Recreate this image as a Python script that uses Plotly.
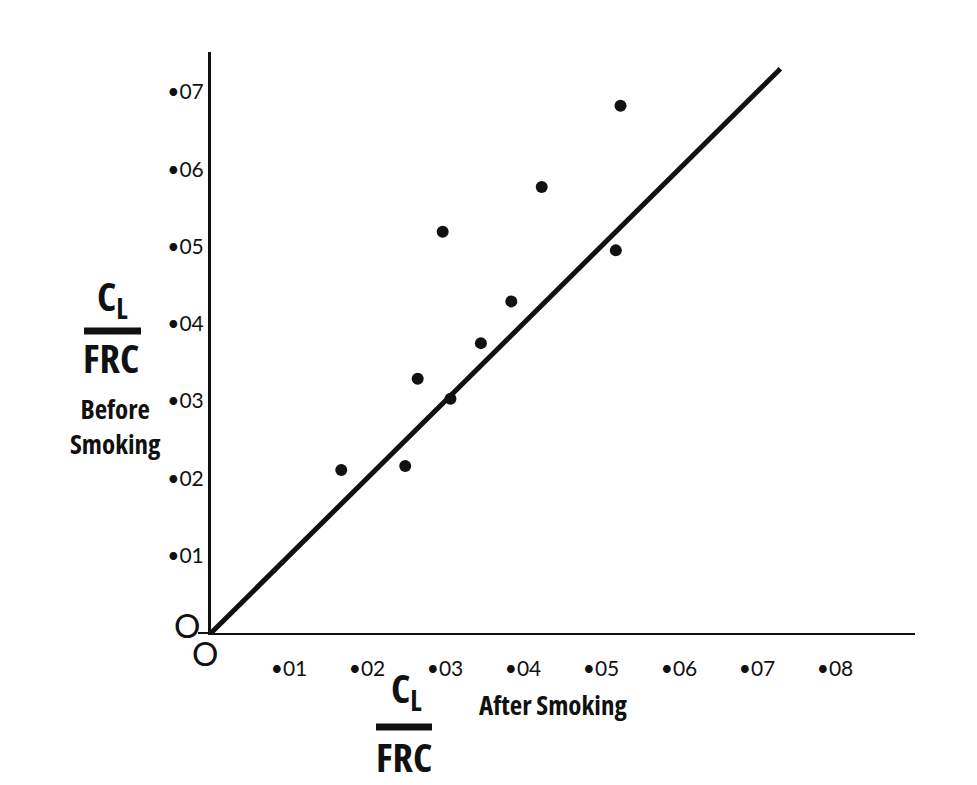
import plotly.graph_objects as go

# ---- data ----
after_smoking = [0.0167, 0.0249, 0.0265, 0.0297, 0.0307, 0.0346, 0.0385, 0.0424, 0.0519, 0.0525]
before_smoking = [0.0211, 0.0216, 0.0329, 0.0519, 0.0303, 0.0375, 0.0429, 0.0577, 0.0495, 0.0682]
line_x = [0.0, 0.0730]
line_y = [0.0, 0.0730]
x_tickvals = [0.01, 0.02, 0.03, 0.04, 0.05, 0.06, 0.07, 0.08]
x_ticktext = ["•01", "•02", "•03", "•04", "•05", "•06", "•07", "•08"]
y_tickvals = [0.01, 0.02, 0.03, 0.04, 0.05, 0.06, 0.07]
y_ticktext = ["•01", "•02", "•03", "•04", "•05", "•06", "•07"]

W, H = 977, 785
L, R, T, B = 211, 62, 52, 152
PW, PH = W - L - R, H - T - B


def px(xp):
    return (xp - L) / PW


def py(yp):
    return (H - B - yp) / PH


TICKFONT = dict(family="Lato, Open Sans, sans-serif", size=21, color="#111")
COND = "Open Sans, sans-serif"


def cond(s):
    return '<span style="font-stretch:75%">' + s + '</span>'


fig = go.Figure()
fig.add_trace(go.Scatter(x=line_x, y=line_y, mode="lines",
                         line=dict(color="#111", width=5), showlegend=False,
                         cliponaxis=False))
fig.add_trace(go.Scatter(x=after_smoking, y=before_smoking, mode="markers",
                         marker=dict(color="#111", size=12), showlegend=False))

fig.update_xaxes(range=[0, PW / 7800], tickvals=x_tickvals, ticktext=x_ticktext,
                 showgrid=False, zeroline=False, showline=True, linecolor="#111",
                 linewidth=2, ticks="outside", ticklen=16, tickcolor="rgba(0,0,0,0)",
                 tickfont=TICKFONT)
fig.update_yaxes(range=[0, PH / 7730], tickvals=y_tickvals, ticktext=y_ticktext,
                 showgrid=False, zeroline=False, showline=True, linecolor="#111",
                 linewidth=3, ticks="", tickfont=TICKFONT)

ann = []
# origin labels
ann.append(dict(x=px(205), y=py(653), text="O", font=dict(family="Lato, sans-serif", size=33, color="#111")))
ann.append(dict(x=px(187), y=py(625), text="O", font=dict(family="Lato, sans-serif", size=33, color="#111")))
# y-axis fraction label
ann.append(dict(x=px(112), y=py(297), text=cond("<b>C<sub>L</sub></b>"), font=dict(family=COND, size=40, color="#111")))
ann.append(dict(x=px(111), y=py(357), text=cond("<b>FRC</b>"), font=dict(family=COND, size=40, color="#111")))
ann.append(dict(x=px(115), y=py(426), text=cond("<b>Before<br>Smoking</b>"), font=dict(family=COND, size=27, color="#111")))
# x-axis fraction label
ann.append(dict(x=px(406), y=py(689), text=cond("<b>C<sub>L</sub></b>"), font=dict(family=COND, size=40, color="#111")))
ann.append(dict(x=px(404), y=py(756), text=cond("<b>FRC</b>"), font=dict(family=COND, size=40, color="#111")))
ann.append(dict(x=px(553), y=py(705), text=cond("<b>After Smoking</b>"), font=dict(family=COND, size=27, color="#111")))
for a in ann:
    a.update(xref="paper", yref="paper", showarrow=False, xanchor="center", yanchor="middle")

shapes = [
    dict(type="line", xref="paper", yref="paper", x0=px(84), x1=px(141), y0=py(331), y1=py(331),
         line=dict(color="#111", width=7)),
    dict(type="line", xref="paper", yref="paper", x0=px(376), x1=px(432), y0=py(727), y1=py(727),
         line=dict(color="#111", width=7)),
    dict(type="line", xref="paper", yref="paper", x0=px(198), x1=px(213), y0=0, y1=0,
         line=dict(color="#111", width=2)),
]

fig.update_layout(width=W, height=H, margin=dict(l=L, r=R, t=T, b=B),
                  paper_bgcolor="white", plot_bgcolor="white",
                  annotations=ann, shapes=shapes, showlegend=False)

fig.write_html("out.html")
